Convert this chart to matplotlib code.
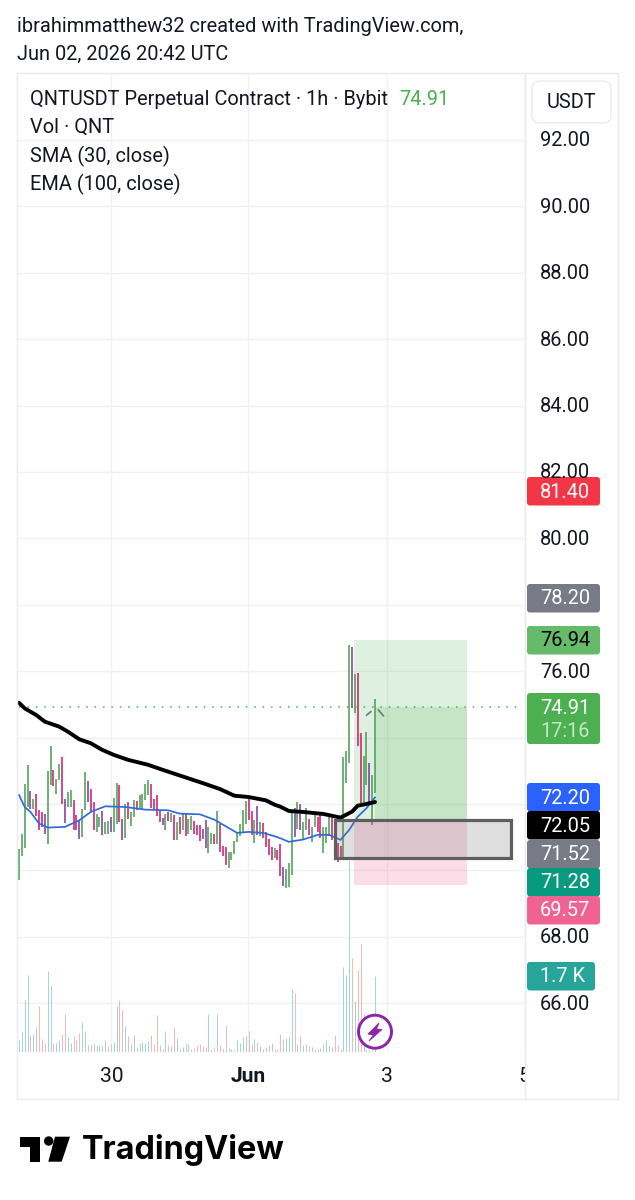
import numpy as np
import matplotlib
matplotlib.use('Agg')
import matplotlib.pyplot as plt
from matplotlib.patches import Rectangle, FancyBboxPatch, Circle, Polygon

plt.rcParams['font.family'] = ['Roboto', 'DejaVu Sans']

highs = [70.63,71.11,72.59,73.16,72.39,72.16,72.31,71.81,71.76,71.71,72.99,73.74,73.03,72.76,73.21,73.41,
         72.16,72.36,72.43,72.11,71.66,71.51,71.86,72.96,72.68,72.46,72.06,71.71,71.61,71.79,71.46,71.49,
         71.61,72.19,72.63,72.56,71.56,72.01,72.06,71.76,72.13,72.09,72.28,72.29,72.59,72.71,72.59,72.16,
         72.26,71.79,71.59,71.71,71.76,71.73,71.66,71.46,71.61,71.71,71.71,71.56,71.63,71.49,71.36,71.36,
         71.26,71.51,71.31,71.13,71.11,71.79,71.41,70.73,70.71,70.56,70.56,70.89,71.13,71.41,71.81,72.09,
         72.19,71.79,71.53,71.93,71.46,71.43,71.16,70.96,70.71,70.68,
         70.60,70.80,70.10,70.04,70.22,71.77,71.87,72.07,72.00,71.47,71.89,71.54,71.32,71.77,71.62,71.67,
         71.32,71.32,71.60,71.57,71.47,70.82,70.74,73.42,73.59,76.80,76.74,75.92,75.94,74.15,73.44,74.17,
         73.22,72.87,75.17]
lows = [69.71,70.43,70.66,71.91,71.86,71.86,71.63,71.23,71.31,71.09,70.81,72.56,72.53,72.31,72.71,72.01,
        71.44,71.91,71.91,71.21,71.21,70.96,71.01,71.81,72.06,71.76,71.21,71.16,71.31,71.06,71.09,71.11,
        71.16,71.16,71.41,71.46,70.93,70.99,71.56,71.34,71.61,71.83,71.86,71.81,72.11,72.26,71.89,71.81,
        71.63,71.46,71.36,71.23,71.49,71.46,70.91,70.93,71.09,71.21,71.03,71.11,71.21,71.09,71.06,70.89,
        70.96,70.66,70.53,70.81,70.79,70.81,70.55,70.43,70.16,70.06,70.31,70.49,70.86,71.03,71.13,71.41,
        71.51,71.06,70.83,71.06,71.03,70.99,70.71,70.46,70.31,70.36,
        70.32,69.82,69.54,69.47,69.49,69.87,71.02,71.24,71.22,70.94,71.22,71.07,70.87,71.30,71.17,70.97,
        70.52,70.82,71.04,70.92,70.32,70.24,70.32,70.32,72.62,73.22,74.90,74.74,73.74,71.94,72.02,72.57,
        72.02,71.37,72.32]
# g up, r down, p down drawn in the purple tone
kinds = ['g','g','g','g','p','g','r','r','r','p','g','g','r','g','g','r',
         'p','g','g','r','r','p','g','g','p','r','r','g','g','p','g','g',
         'p','g','g','r','p','g','r','g','g','r','g','g','g','g','r','r',
         'r','r','p','g','r','g','r','g','r','g','r','g','g','r','r','r',
         'p','p','g','g','r','g','r','r','r','g','g','g','g','g','g','g',
         'r','r','g','p','g','r','r','r','r','g',
         'r','r','p','g','g','g','p','g','p','g','g','r','g','g','r','r',
         'g','g','g','r','r','r','r','g','g','g','p','g','r','r','g','g',
         'p','g','g']
volumes = [260,450,1160,1730,370,410,560,1040,280,210,1810,1470,200,210,260,410,
           860,340,210,360,260,430,660,480,160,190,210,150,160,160,260,130,
           190,220,1040,1160,930,580,360,190,390,110,210,220,210,250,370,190,
           820,150,75,480,160,130,560,310,75,110,200,190,60,90,130,190,
           130,110,840,75,110,840,150,75,600,90,75,40,260,210,340,360,
           480,190,300,220,130,75,110,150,200,75,
           60,410,300,310,340,1420,1310,190,360,150,190,150,110,60,60,90,
           190,260,150,110,390,150,75,1900,1730,4290,2100,1130,1830,2420,860,60,
           40,40,1700]

ema_x = [0,2,6,9,14,17,21,25,29,33,38,45,50,57,64,70,75,80,86,89,91,94,99,106,112,116,118,121,124]
ema_y = [75.05,74.88,74.68,74.48,74.33,74.18,73.95,73.83,73.63,73.48,73.33,73.18,73.03,72.83,72.63,72.45,
         72.25,72.21,72.11,71.98,71.92,71.79,71.76,71.70,71.59,71.77,71.95,72.00,72.06]
sma_x = [0,2,4,7,10,16,21,25,30,37,44,52,56,63,68,72,76,80,85,89,91,94,99,104,108,112,115,118,121,124]
sma_y = [72.27,71.91,71.76,71.41,71.29,71.31,71.51,71.76,71.93,71.91,71.83,71.81,71.71,71.69,71.53,71.33,
         71.13,71.16,71.13,71.03,70.97,70.86,70.93,71.07,71.07,70.92,71.22,71.62,71.87,72.20]

price_ticks = [92,90,88,86,84,82,80,78,76,74,72,70,68,66]
hidden_ticks = [78,74,72,70]
time_pos = [32.2,79.9,128.1,176.1]
time_labels = ['30','Jun','3','5']

last_price = 74.91
tp_price = 76.94
entry_price = 71.52
sl_price = 69.57
box_top = 71.52
box_bottom = 70.37

tags = ['81.40','78.20','76.94','72.20','72.05','71.52','71.28','69.57','1.7 K']
tag_tops = [477,584,626,783,811,840,868,896,962]
tag_cols = ['#f23645','#787b86','#66bb6a','#2962ff','#000000','#787b86','#089981','#f06292','#26a69a']
tag_text = ['#ffffff','#ffffff','#000000','#ffffff','#ffffff','#ffffff','#ffffff','#ffffff','#ffffff']

W,H = 635,1200
L,R,T,B = 17,525,73,1052
PXF = 72/100.

def add_ax(x0,y0,x1,y1,**kw):
    return fig.add_axes([x0/W,1-y1/H,(x1-x0)/W,(y1-y0)/H],**kw)

fig = plt.figure(figsize=(W/100,H/100),dpi=100,facecolor='white')

# main price pane
ax = add_ax(L,T,R,B)
ax.set_xlim((L-19)/2.871,(R-19)/2.871)
ax.set_ylim(92-(B-140)/33.2,92+(140-T)/33.2)
ax.set_xticks(time_pos)
ax.set_yticks(price_ticks)
ax.grid(True,color='#f0f1f3',lw=1)
ax.set_axisbelow(True)
ax.tick_params(length=0,labelbottom=False,labelleft=False)
for s in ax.spines.values():
    s.set_visible(False)

x = np.arange(len(highs))
cols = {'g':'#4f9f58','r':'#cf1f6e','p':'#7d3f9f'}
volcols = {'g':'#a6d4d0','r':'#ebbcbc','p':'#ebbcbc'}

# volume in the same pane, own scale
vax = ax.twinx()
vax.set_ylim(0,(B-T)*22.37)
vax.axis('off')
vax.set_zorder(ax.get_zorder()+1)
vax.vlines(x,0,volumes,colors=[volcols[k] for k in kinds],lw=0.75)

top = add_ax(L,T,R,B,sharex=ax,sharey=ax)
top.patch.set_alpha(0)
top.axis('off')
top.set_zorder(vax.get_zorder()+1)

# long position drawing
pw0,pw1 = 116.7,156.2
top.add_patch(Rectangle((pw0,entry_price),pw1-pw0,tp_price-entry_price,color='#4caf50',alpha=0.18,lw=0))
top.add_patch(Rectangle((x[-1],entry_price),pw1-x[-1],last_price-entry_price,color='#4caf50',alpha=0.17,lw=0))
top.add_patch(Rectangle((pw0,sl_price),pw1-pw0,entry_price-sl_price,color='#f06292',alpha=0.21,lw=0))

top.vlines(x,lows,highs,colors=[cols[k] for k in kinds],lw=1.15,zorder=3)
top.plot(sma_x,sma_y,color='#2f6bd8',lw=1.25,zorder=4)
top.plot(ema_x,ema_y,color='#000000',lw=2.8,zorder=5,solid_capstyle='round')

# rectangle drawing
top.add_patch(Rectangle((110,box_bottom),61.2,box_top-box_bottom,fc=(0.47,0.47,0.47,0.24),ec='#5f5f5f',lw=2.3,zorder=6))

top.plot([0,175],[last_price,last_price],color='#4caf50',lw=1.1,ls=(0,(1,4.5)),zorder=3)
# small arrow mark at the last bar
top.plot([121.1,122.5],[74.68,74.78],color='#787b86',lw=1.3,zorder=6)
top.plot([125.2,126.9],[74.83,74.66],color='#787b86',lw=1.3,zorder=6)

# time scale row
tax = add_ax(L,B,R,1099)
tax.set_xlim(ax.get_xlim())
tax.set_ylim(1099,B)
tax.axis('off')
for p,t in zip(time_pos,time_labels):
    tax.text(p,1077,t,ha='center',va='center',fontsize=21*PXF,color='#131722',
             fontweight='bold' if t=='Jun' else 'normal',clip_on=True)

# everything around the chart, in screen pixels
ov = fig.add_axes([0,0,1,1],zorder=20)
ov.set_xlim(0,W)
ov.set_ylim(H,0)
ov.axis('off')
ov.patch.set_alpha(0)

fc = '#e9eaec'
ov.plot([L,L,618,618,L],[T,1099,1099,T,T],color=fc,lw=1)
ov.plot([R,R],[T,1099],color=fc,lw=1)

FS = 19.95*PXF
ov.text(17,26.5,'ibrahimmatthew32 created with TradingView.com,',fontsize=FS,va='center',color='#131722')
ov.text(17,54.5,'Jun 02, 2026 20:42 UTC',fontsize=FS,va='center',color='#131722')
ov.text(30,99.5,'QNTUSDT Perpetual Contract · 1h · Bybit',fontsize=FS,va='center',color='#131722')
ov.text(399,99.5,'74.91',fontsize=FS,va='center',color='#4caf50')
ov.text(30,127.5,'Vol · QNT',fontsize=FS,va='center',color='#131722')
ov.text(30,156.5,'SMA (30, close)',fontsize=FS,va='center',color='#131722')
ov.text(30,184.5,'EMA (100, close)',fontsize=FS,va='center',color='#131722')

ov.add_patch(FancyBboxPatch((532,81),79,42,boxstyle='round,pad=0,rounding_size=8',fc='white',ec=fc,lw=1))
ov.text(571.5,102,'USDT',fontsize=FS,ha='center',va='center',color='#131722')

# price scale text, through the pane's own scale
for p in price_ticks:
    if p in hidden_ticks:
        continue
    py = 140+(92-p)*33.2
    ov.text(540,py+1,'%.2f'%p,fontsize=20*PXF,va='center',color='#131722')

for t,y0,c,tc in zip(tags,tag_tops,tag_cols,tag_text):
    w = 68 if 'K' in t else 73
    ov.add_patch(FancyBboxPatch((527,y0),w,28.5,boxstyle='round,pad=0,rounding_size=3',fc=c,ec='none'))
    ov.text(540,y0+15,t,fontsize=20*PXF,va='center',color=tc,zorder=5)
ov.add_patch(FancyBboxPatch((527,693),73,51,boxstyle='round,pad=0,rounding_size=3',fc='#4caf50',ec='none'))
ov.text(540,708,'%.2f'%last_price,fontsize=20*PXF,va='center',color='white',zorder=5)
ov.text(540,731.5,'17:16',fontsize=20*PXF,va='center',color='#c8e6c9',zorder=5)

# lightning badge
ov.add_patch(Circle((375,1031.7),16.5,fc='white',ec='#8e24aa',lw=2.1))
ov.add_patch(Polygon([(379,1023),(368,1034),(373.5,1035),(369,1041),(382,1029.5),(376.5,1029)],fc='#8e24aa',ec='#8e24aa',lw=0.6))

# TradingView logo
ov.add_patch(Polygon([(20,1136.7),(40,1136.7),(40,1161.7),(30,1161.7),(30,1146.7),(20,1146.7)],fc='#000000',ec='none'))
ov.add_patch(Circle((48.7,1141),4.7,fc='#000000',ec='none'))
ov.add_patch(Polygon([(55,1136.7),(70,1136.7),(61.7,1161.7),(48.3,1161.7)],fc='#000000',ec='none'))
ov.text(81.5,1150,'TradingView',fontsize=32.4*PXF,fontfamily=['Inter','DejaVu Sans'],fontweight='bold',va='center',color='#000000')

fig.savefig('out.png',dpi=100)
